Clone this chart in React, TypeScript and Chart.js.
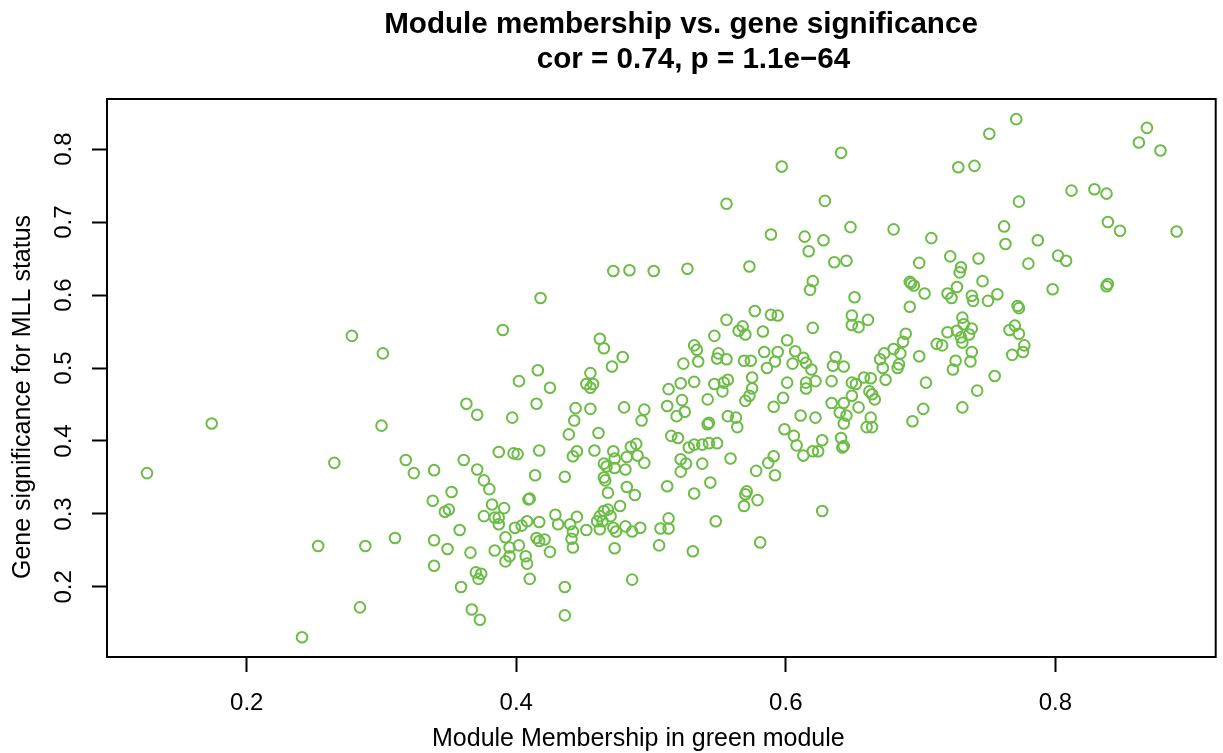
import React, { useEffect, useRef } from 'react';
import { Chart, registerables } from 'chart.js';

Chart.register(...registerables);

const TITLE_LINES = ['Module membership vs. gene significance', 'cor = 0.74, p = 1.1e\u221264'];
const X_LABEL = 'Module Membership in green module';
const Y_LABEL = 'Gene significance for MLL status';
const X_TICKS = [0.2, 0.4, 0.6, 0.8];
const Y_TICKS = [0.2, 0.3, 0.4, 0.5, 0.6, 0.7, 0.8];
const X_RANGE = [0.0963, 0.919];
const Y_RANGE = [0.104, 0.8686];
const POINT_COLOR = '#6cbd45';

// Module membership (x) values
const moduleMembership = [
  0.126, 0.174, 0.265, 0.300, 0.253, 0.288, 0.310, 0.284, 0.241, 0.278, 0.301,
  0.363, 0.371, 0.318, 0.324, 0.339, 0.361, 0.371, 0.376, 0.352, 0.338, 0.347, 0.350,
  0.376, 0.358, 0.339, 0.349, 0.366, 0.339, 0.370, 0.374, 0.372, 0.359, 0.367, 0.373,
  0.556, 0.472, 0.484, 0.502, 0.527, 0.418, 0.390, 0.556, 0.547, 0.462, 0.465,
  0.479, 0.471, 0.416, 0.455, 0.532, 0.534, 0.550, 0.549, 0.556, 0.524, 0.535,
  0.402, 0.425, 0.415, 0.397, 0.452, 0.455, 0.457, 0.444, 0.455, 0.443,
  0.480, 0.495, 0.493, 0.439, 0.461, 0.387, 0.398, 0.401, 0.417, 0.442,
  0.445, 0.458, 0.472, 0.465, 0.473, 0.467, 0.473, 0.481, 0.482, 0.485,
  0.489, 0.490, 0.495, 0.414, 0.436, 0.465, 0.466, 0.468, 0.482, 0.488,
  0.380, 0.410, 0.409, 0.382, 0.391, 0.384, 0.387, 0.387, 0.399, 0.404,
  0.408, 0.417, 0.429, 0.431, 0.440, 0.445, 0.442, 0.452, 0.462, 0.460,
  0.465, 0.468, 0.470, 0.464, 0.462, 0.472, 0.474, 0.477, 0.481, 0.486,
  0.492, 0.392, 0.395, 0.402, 0.384, 0.392, 0.395, 0.407, 0.408, 0.415,
  0.417, 0.421, 0.425, 0.441, 0.442, 0.473, 0.410, 0.436, 0.436, 0.486,
  0.513, 0.522, 0.532, 0.547, 0.554, 0.557, 0.553, 0.512, 0.523, 0.519,
  0.525, 0.542, 0.542, 0.543, 0.557, 0.515, 0.520, 0.528, 0.532, 0.538,
  0.543, 0.549, 0.559, 0.522, 0.526, 0.522, 0.538, 0.544, 0.512, 0.532,
  0.548, 0.513, 0.507, 0.513, 0.506, 0.531,
  0.641, 0.597, 0.728, 0.629, 0.648, 0.680, 0.589, 0.614, 0.628, 0.708,
  0.617, 0.722, 0.573, 0.636, 0.645, 0.699, 0.730, 0.729, 0.620, 0.618,
  0.692, 0.693, 0.695, 0.703, 0.651, 0.692, 0.720, 0.723, 0.727, 0.577,
  0.589, 0.594, 0.565, 0.568, 0.570, 0.583, 0.620, 0.649, 0.649, 0.654,
  0.661, 0.689, 0.687, 0.720, 0.712, 0.716, 0.727, 0.730, 0.601, 0.584,
  0.594, 0.607, 0.613, 0.615, 0.605, 0.619, 0.569, 0.574, 0.586, 0.592,
  0.637, 0.635, 0.643, 0.670, 0.673, 0.680, 0.685, 0.672, 0.683, 0.684,
  0.699, 0.726, 0.724, 0.575, 0.601, 0.615, 0.622, 0.634, 0.658, 0.663,
  0.674, 0.704,
  0.575, 0.573, 0.570, 0.615, 0.649, 0.652, 0.598, 0.591, 0.634, 0.643,
  0.649, 0.654, 0.640, 0.645, 0.643, 0.662, 0.664, 0.666, 0.663, 0.660,
  0.664, 0.702, 0.694, 0.731, 0.563, 0.564, 0.611, 0.622, 0.599, 0.606,
  0.608, 0.613, 0.620, 0.624, 0.627, 0.641, 0.642, 0.643, 0.591, 0.587,
  0.578, 0.592, 0.571, 0.570, 0.579, 0.569, 0.627, 0.581,
  0.771, 0.751, 0.868, 0.862, 0.878, 0.740, 0.812, 0.829, 0.838, 0.773,
  0.839, 0.848, 0.890, 0.762, 0.763, 0.787, 0.743, 0.780, 0.802, 0.808,
  0.746, 0.738, 0.739, 0.750, 0.757, 0.798, 0.838, 0.839, 0.772, 0.773,
  0.731, 0.732, 0.738, 0.736, 0.731, 0.766, 0.770, 0.773, 0.777, 0.776,
  0.768, 0.738, 0.737, 0.755, 0.742,
];

// Gene significance (y) values, same order
const geneSignificance = [
  0.356, 0.424, 0.370, 0.421, 0.256, 0.256, 0.267, 0.172, 0.131, 0.544, 0.520,
  0.451, 0.436, 0.374, 0.356, 0.360, 0.374, 0.361, 0.346, 0.330, 0.318, 0.303, 0.306,
  0.297, 0.278, 0.264, 0.252, 0.247, 0.229, 0.220, 0.218, 0.211, 0.200, 0.169, 0.155,
  0.725, 0.633, 0.634, 0.633, 0.636, 0.596, 0.552, 0.566, 0.544, 0.540, 0.527,
  0.515, 0.502, 0.497, 0.493, 0.531, 0.525, 0.520, 0.513, 0.512, 0.506, 0.509,
  0.482, 0.473, 0.451, 0.432, 0.478, 0.473, 0.478, 0.445, 0.444, 0.428,
  0.446, 0.443, 0.428, 0.409, 0.411, 0.385, 0.383, 0.382, 0.387, 0.379,
  0.386, 0.387, 0.386, 0.369, 0.376, 0.365, 0.363, 0.361, 0.378, 0.392,
  0.396, 0.380, 0.370, 0.353, 0.351, 0.350, 0.346, 0.329, 0.337, 0.326,
  0.334, 0.321, 0.320, 0.313, 0.308, 0.295, 0.295, 0.286, 0.281, 0.284,
  0.290, 0.289, 0.299, 0.286, 0.286, 0.296, 0.276, 0.278, 0.297, 0.290,
  0.304, 0.306, 0.297, 0.290, 0.279, 0.281, 0.276, 0.311, 0.283, 0.276,
  0.281, 0.268, 0.254, 0.257, 0.250, 0.235, 0.242, 0.242, 0.232, 0.267,
  0.263, 0.265, 0.248, 0.266, 0.254, 0.253, 0.211, 0.200, 0.161, 0.210,
  0.471, 0.479, 0.481, 0.478, 0.480, 0.484, 0.468, 0.448, 0.456, 0.434,
  0.440, 0.457, 0.423, 0.425, 0.434, 0.407, 0.404, 0.391, 0.395, 0.395,
  0.397, 0.397, 0.376, 0.375, 0.369, 0.358, 0.369, 0.343, 0.338, 0.328,
  0.290, 0.294, 0.280, 0.280, 0.257, 0.249,
  0.795, 0.776, 0.775, 0.729, 0.693, 0.690, 0.683, 0.680, 0.675, 0.678,
  0.660, 0.653, 0.639, 0.645, 0.647, 0.644, 0.638, 0.631, 0.619, 0.607,
  0.618, 0.616, 0.613, 0.602, 0.597, 0.584, 0.602, 0.596, 0.611, 0.578,
  0.573, 0.572, 0.551, 0.557, 0.546, 0.550, 0.555, 0.572, 0.559, 0.556,
  0.566, 0.547, 0.536, 0.549, 0.533, 0.531, 0.551, 0.542, 0.538, 0.522,
  0.522, 0.523, 0.514, 0.507, 0.506, 0.498, 0.510, 0.510, 0.500, 0.509,
  0.515, 0.503, 0.502, 0.512, 0.520, 0.526, 0.520, 0.500, 0.500, 0.505,
  0.516, 0.510, 0.498, 0.487, 0.480, 0.480, 0.482, 0.482, 0.487, 0.486,
  0.484, 0.480,
  0.472, 0.462, 0.455, 0.472, 0.480, 0.478, 0.459, 0.447, 0.452, 0.452,
  0.462, 0.446, 0.439, 0.435, 0.424, 0.468, 0.464, 0.457, 0.432, 0.419,
  0.419, 0.444, 0.427, 0.446, 0.432, 0.419, 0.435, 0.432, 0.416, 0.407,
  0.394, 0.380, 0.386, 0.386, 0.401, 0.404, 0.391, 0.393, 0.379, 0.370,
  0.359, 0.353, 0.331, 0.327, 0.319, 0.311, 0.304, 0.261,
  0.841, 0.821, 0.829, 0.809, 0.798, 0.777, 0.743, 0.745, 0.739, 0.728,
  0.700, 0.688, 0.687, 0.694, 0.670, 0.675, 0.650, 0.643, 0.654, 0.647,
  0.619, 0.599, 0.592, 0.592, 0.601, 0.608, 0.612, 0.615, 0.585, 0.582,
  0.569, 0.560, 0.554, 0.546, 0.535, 0.552, 0.558, 0.547, 0.531, 0.522,
  0.518, 0.522, 0.509, 0.489, 0.469,
];

const FONT_FAMILY = '"Liberation Sans", Arial, Helvetica, sans-serif';

export default function App() {
  const canvasRef = useRef<HTMLCanvasElement | null>(null);

  useEffect(() => {
    const canvas = canvasRef.current;
    if (!canvas) return;
    const n = Math.min(moduleMembership.length, geneSignificance.length);
    const points: { x: number; y: number }[] = [];
    for (let i = 0; i < n; i++) points.push({ x: moduleMembership[i], y: geneSignificance[i] });

    // R-style box around the plot region plus the title / axis labels
    const rPlotPlugin = {
      id: 'rPlot',
      afterDatasetsDraw(chart: any) {
        const { ctx, chartArea } = chart;
        ctx.save();
        ctx.strokeStyle = '#000';
        ctx.lineWidth = 2;
        ctx.strokeRect(chartArea.left, chartArea.top, chartArea.right - chartArea.left, chartArea.bottom - chartArea.top);
        ctx.restore();
      },
      afterDraw(chart: any) {
        const { ctx } = chart;
        ctx.save();
        ctx.fillStyle = '#000';
        ctx.textBaseline = 'alphabetic';
        ctx.font = `bold 29.6px ${FONT_FAMILY}`;
        ctx.textAlign = 'center';
        ctx.fillText(TITLE_LINES[0], 681, 32.5);
        ctx.fillText(TITLE_LINES[1], 693.5, 67.5);
        ctx.font = `25px ${FONT_FAMILY}`;
        ctx.textAlign = 'left';
        ctx.fillText(chart.options.scales.x.title.text, 432, 746);
        ctx.translate(30, 579);
        ctx.rotate(-Math.PI / 2);
        ctx.fillText(chart.options.scales.y.title.text, 0, 0);
        ctx.restore();
      },
    };

    const chart = new Chart(canvas, {
      type: 'scatter',
      data: {
        datasets: [
          {
            label: 'genes',
            data: points,
            showLine: false,
            pointStyle: 'circle',
            pointRadius: 5.3,
            pointHoverRadius: 5.3,
            pointBorderWidth: 2,
            pointBorderColor: POINT_COLOR,
            pointBackgroundColor: 'rgba(0,0,0,0)',
          },
        ],
      },
      options: {
        responsive: false,
        animation: false,
        devicePixelRatio: 1,
        events: [],
        layout: { padding: { left: 0, top: 99, right: 4, bottom: 0 } },
        plugins: {
          legend: { display: false },
          tooltip: { enabled: false },
          title: { display: false, text: TITLE_LINES },
        },
        scales: {
          x: {
            type: 'linear',
            position: 'bottom',
            min: X_RANGE[0],
            max: X_RANGE[1],
            afterBuildTicks: (axis: any) => {
              axis.ticks = X_TICKS.map((v) => ({ value: v }));
            },
            afterFit: (axis: any) => {
              axis.height = 96;
            },
            border: { display: false },
            grid: {
              display: true,
              drawOnChartArea: false,
              drawTicks: true,
              tickLength: 15,
              tickWidth: 2,
              tickColor: '#000',
            },
            ticks: {
              color: '#000',
              padding: 17,
              maxRotation: 0,
              font: { family: FONT_FAMILY, size: 24 },
              callback: (v: any) => Number(v).toFixed(1),
            },
            title: { display: false, text: X_LABEL },
          },
          y: {
            type: 'linear',
            position: 'left',
            min: Y_RANGE[0],
            max: Y_RANGE[1],
            afterBuildTicks: (axis: any) => {
              axis.ticks = Y_TICKS.map((v) => ({ value: v }));
            },
            afterFit: (axis: any) => {
              axis.width = 107;
            },
            border: { display: false },
            grid: {
              display: true,
              drawOnChartArea: false,
              drawTicks: true,
              tickLength: 15,
              tickWidth: 2,
              tickColor: '#000',
            },
            ticks: {
              color: '#000',
              padding: 11,
              minRotation: 90,
              maxRotation: 90,
              crossAlign: 'center',
              font: { family: FONT_FAMILY, size: 24 },
              callback: (v: any) => Number(v).toFixed(1),
            },
            title: { display: false, text: Y_LABEL },
          },
        },
      },
      plugins: [rPlotPlugin],
    } as any);

    return () => chart.destroy();
  }, []);

  return (
    <div style={{ position: 'fixed', left: 0, top: 0, width: 1223, height: 753, background: '#fff' }}>
      <canvas ref={canvasRef} width={1223} height={753} style={{ display: 'block', width: 1223, height: 753 }} />
    </div>
  );
}
